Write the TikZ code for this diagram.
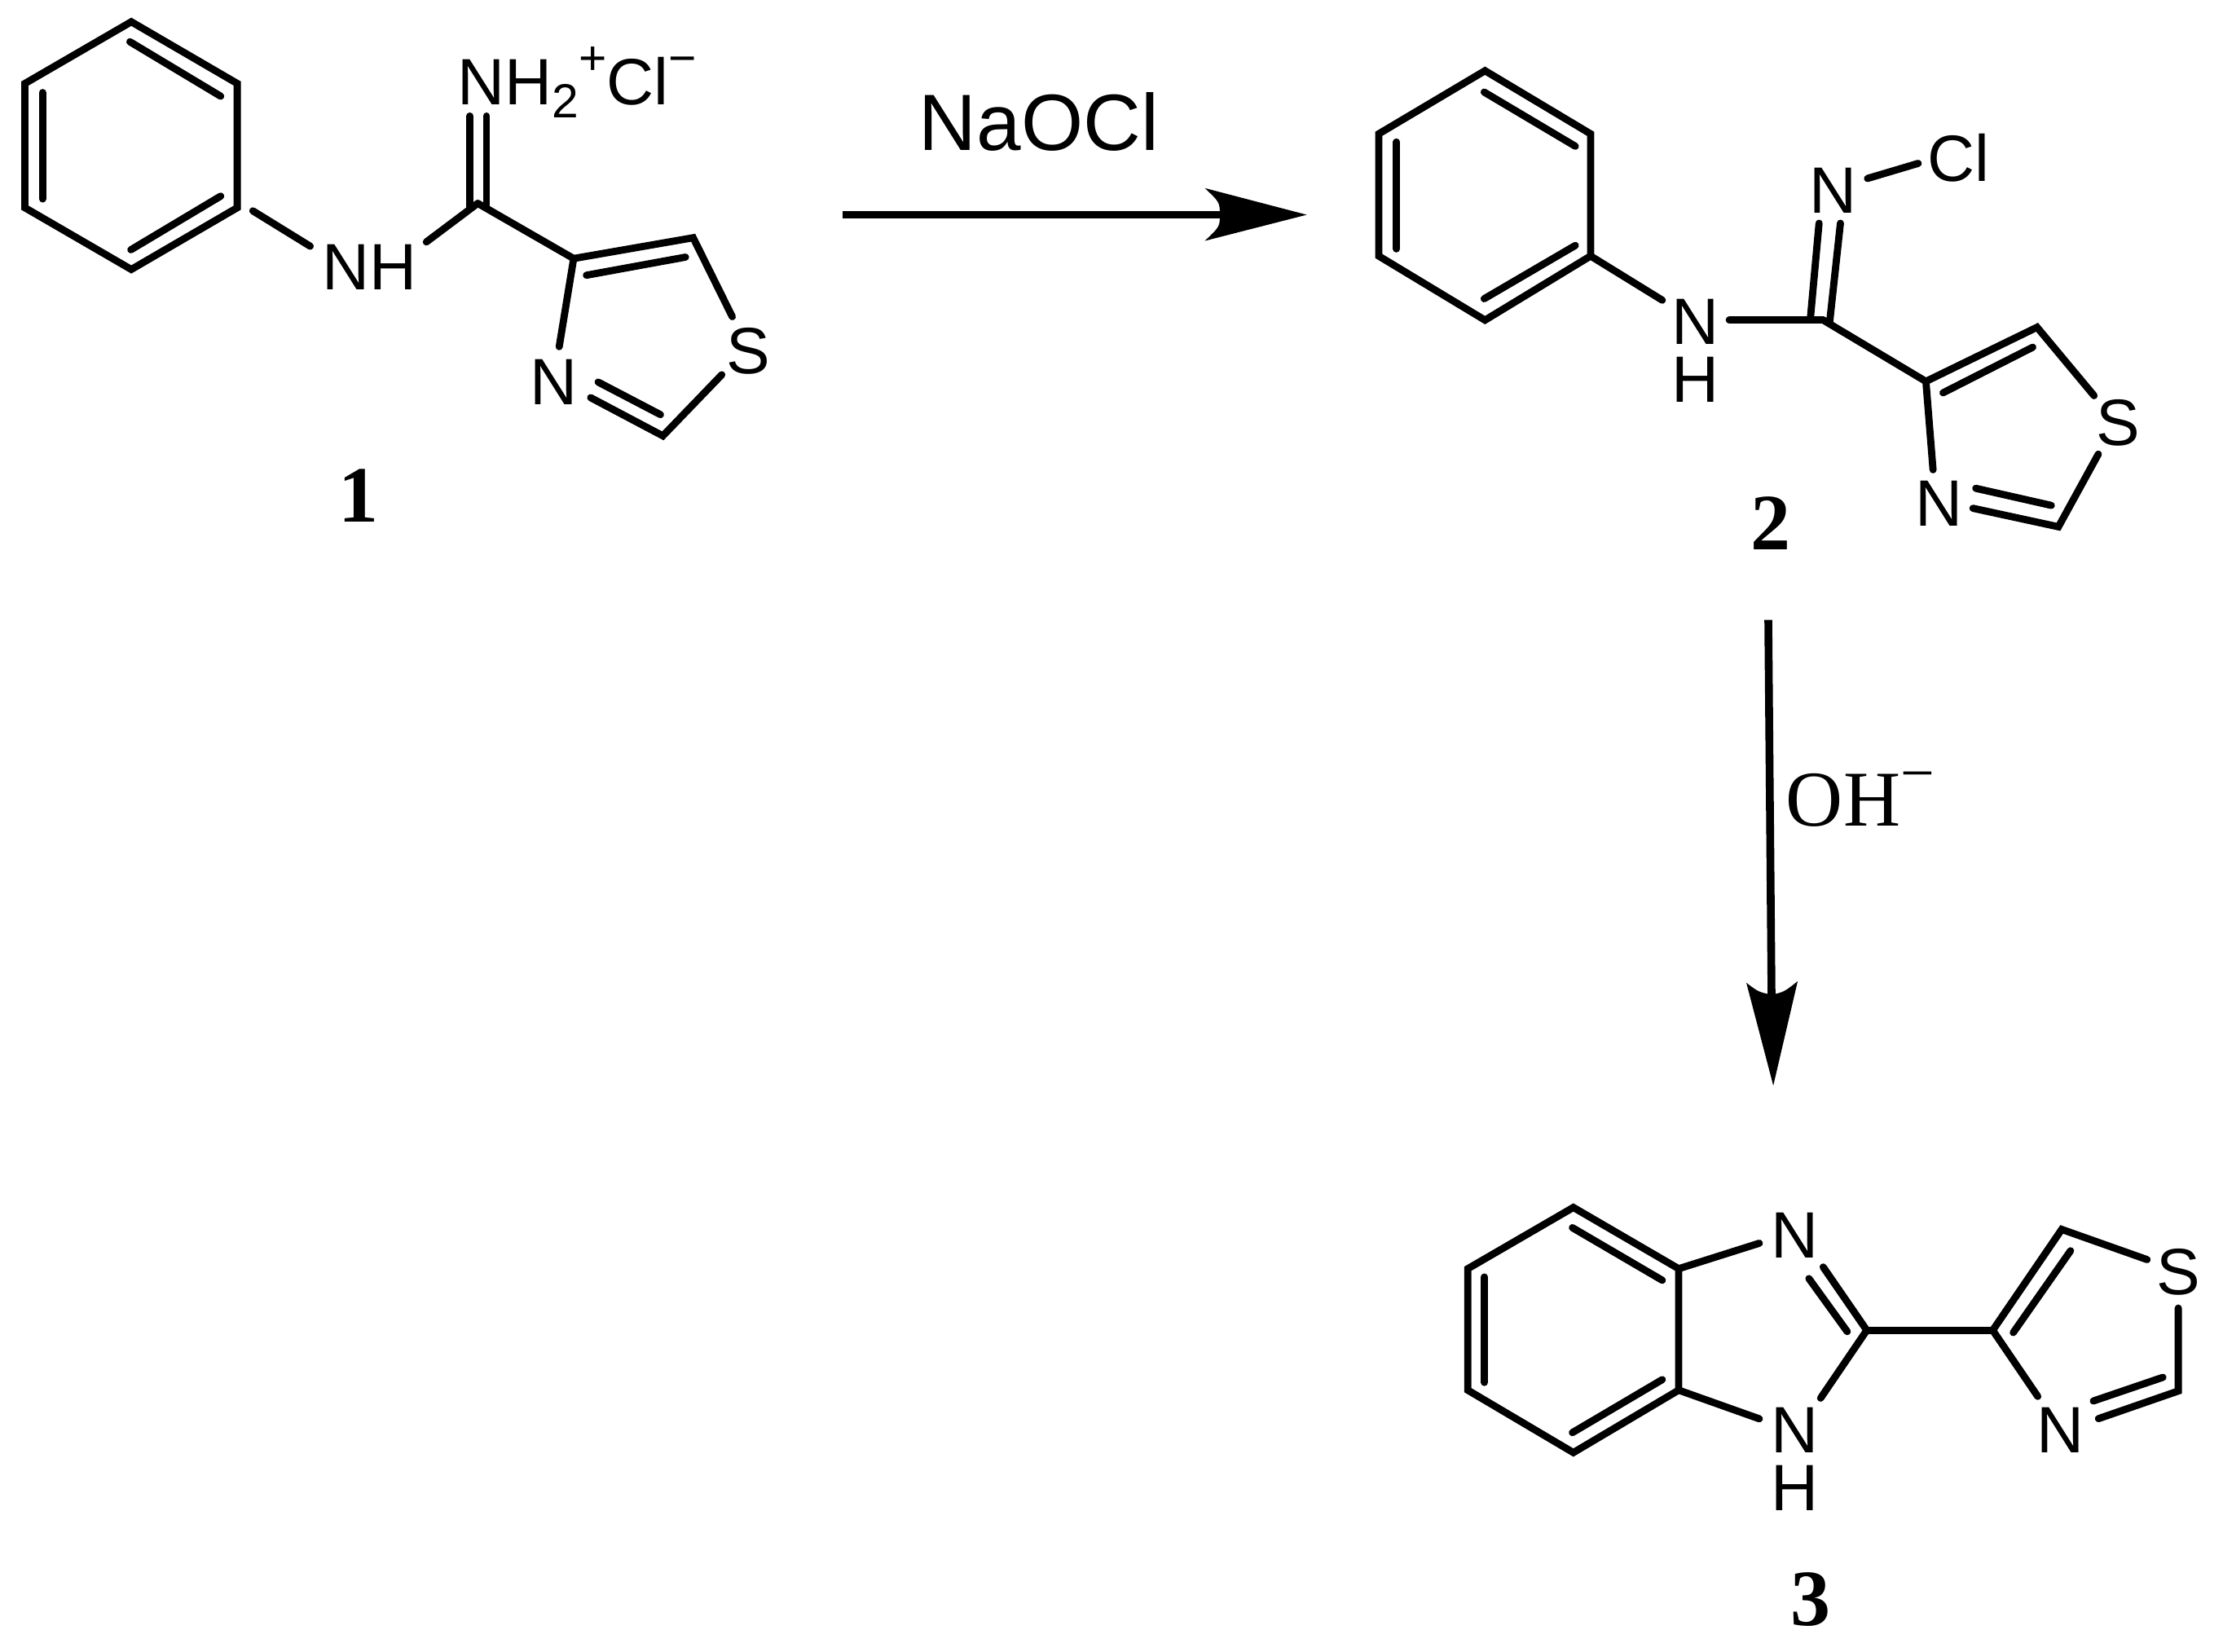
\documentclass[tikz,border=0pt]{standalone}
\usepackage{fontspec}
\setmainfont{Liberation Sans}
\newfontfamily\timesf{Liberation Serif}
\newcommand{\atomsize}{\fontsize{20.1}{24}\selectfont}
\newcommand{\smallsize}{\fontsize{14.7}{17}\selectfont}
\tikzset{
  bond/.style={line width=2.2pt,line cap=round,line join=miter},
  atom/.style={inner sep=0pt,outer sep=0pt,font=\atomsize},
  reagent/.style={inner sep=0pt,outer sep=0pt,font=\fontsize{24.5}{28}\selectfont},
  compound/.style={inner sep=0pt,outer sep=0pt,font=\timesf\bfseries\fontsize{24.5}{28}\selectfont},
  stem/.style={line width=2.4pt},
  head/.style={fill=black,draw=none}
}
\begin{document}
\begin{tikzpicture}[x=0.43718pt,y=-0.43718pt]
\useasboundingbox (0,0) rectangle (1560,1159.1);

% ---------- compound 1 ----------
\begin{scope}[xscale=0.994,yscale=0.993]
\coordinate (a1) at (92.7,15.4);
\coordinate (a2) at (167.5,59);
\coordinate (a3) at (167.5,146.8);
\coordinate (a4) at (92.7,190.4);
\coordinate (a5) at (17.6,146.8);
\coordinate (a6) at (17.6,59);
\draw[bond] (a1) -- (a2) -- (a3) -- (a4) -- (a5) -- (a6) -- cycle;
\coordinate (a1i) at (91.7,29.5); \coordinate (a2i) at (155.8,68);
\coordinate (a3i) at (155.8,138.6); \coordinate (a4i) at (92.4,176.5);
\coordinate (a5i) at (30,140.6); \coordinate (a6i) at (30,65.4);
\draw[bond] (a1i) -- (a2i); \draw[bond] (a3i) -- (a4i); \draw[bond] (a5i) -- (a6i);
\node[atom] (nh1) at (261,188.9) {NH};
\node[atom,anchor=base west] (nh2) at (323,74) {NH\raisebox{-4.1pt}{\smallsize 2}\raisebox{9.2pt}{\smallsize +}Cl\raisebox{9.2pt}{\smallsize −}};
\node[atom] (s1) at (528.5,248) {S};
\node[atom] (n1) at (391,270) {N};
\node[compound] (lab1) at (253,350) {1};
\coordinate (a3e) at (178.5,149); \coordinate (nh1w) at (219,174);
\coordinate (nh1e) at (301,171); \coordinate (c1) at (337.3,143.7);
\draw[bond] (a3e) -- (nh1w);
\draw[bond] (nh1e) -- (c1);
\coordinate (dbl) at (331.8,82); \coordinate (dbr) at (343.5,82);
\coordinate (dbl2) at (331.8,146); \coordinate (dbr2) at (343.5,147);
\draw[bond] (dbl) -- (dbl2); \draw[bond] (dbr) -- (dbr2);
\coordinate (t4) at (405,182.7); \coordinate (t5) at (489.4,168);
\coordinate (t5s) at (517,223.8); \coordinate (ts2) at (509.6,264.8);
\coordinate (t2) at (468,308); \coordinate (t2n) at (417,281);
\coordinate (t4n) at (394.8,245);
\draw[bond] (c1) -- (t4);
\draw[bond] (t4n) -- (t4) -- (t5) -- (t5s);
\draw[bond] (ts2) -- (t2) -- (t2n);
\coordinate (t4i) at (414,194.5); \coordinate (t5i) at (484,181.7);
\coordinate (t2i) at (466.3,293); \coordinate (t2ni) at (422.3,270);
\draw[bond] (t4i) -- (t5i); \draw[bond] (t2i) -- (t2ni);
\end{scope}

% ---------- arrow 1 ----------
\node[reagent,anchor=base west] (naocl) at (645,105.6) {NaOCl};
\coordinate (ar1s) at (591,150.7); \coordinate (ar1n) at (856,150.7);
\coordinate (ar1t) at (917,150.7); \coordinate (ar1a) at (845.5,132);
\coordinate (ar1b) at (845.5,169);
\draw[stem] (ar1s) -- (ar1n);
\fill[head] (ar1t) -- (ar1a) .. controls (856,142) .. (ar1n) .. controls (856,159) .. (ar1b) -- cycle;

% ---------- compound 2 ----------
\begin{scope}[xshift=-3.5*0.43718pt,yshift=0.6pt]
\coordinate (b1) at (1045.6,51);
\coordinate (b2) at (1119.7,95.3);
\coordinate (b3) at (1119.7,181);
\coordinate (b4) at (1045.6,226);
\coordinate (b5) at (971,181);
\coordinate (b6) at (971,95.3);
\draw[bond] (b1) -- (b2) -- (b3) -- (b4) -- (b5) -- (b6) -- cycle;
\coordinate (b1i) at (1045,66); \coordinate (b2i) at (1109,104);
\coordinate (b3i) at (1109,173.6); \coordinate (b4i) at (1045,211);
\coordinate (b5i) at (983.5,176); \coordinate (b6i) at (983.5,101);
\draw[bond] (b1i) -- (b2i); \draw[bond] (b3i) -- (b4i); \draw[bond] (b5i) -- (b6i);
\node[atom] (n2a) at (1193,227) {N};
\node[atom] (h2a) at (1193,268) {H};
\node[atom] (n2b) at (1290,135) {N};
\node[atom] (cl2) at (1378,112) {Cl};
\node[atom] (s2) at (1490,298) {S};
\node[atom] (n2c) at (1364,354.5) {N};
\node[compound] (lab2) at (1246,368.6) {2};
\coordinate (n2aw) at (1170,212); \coordinate (n2ae) at (1217,226);
\coordinate (c2) at (1283,226);
\draw[bond] (b3) -- (n2aw);
\draw[bond] (n2ae) -- (c2);
\coordinate (e1) at (1274,224); \coordinate (e2) at (1280,158);
\coordinate (e3) at (1287.5,227); \coordinate (e4) at (1295,158);
\draw[bond] (e1) -- (e2); \draw[bond] (e3) -- (e4);
\coordinate (n2bc) at (1314,126.6); \coordinate (cl2w) at (1349.6,116);
\draw[bond] (n2bc) -- (cl2w);
\coordinate (u4) at (1355,269); \coordinate (u5) at (1433,231);
\coordinate (u5s) at (1473,279); \coordinate (us2) at (1476,320);
\coordinate (u2) at (1448,371); \coordinate (u2n) at (1388,358);
\coordinate (u4n) at (1360,331);
\draw[bond] (c2) -- (u4);
\draw[bond] (u4n) -- (u4) -- (u5) -- (u5s);
\draw[bond] (us2) -- (u2) -- (u2n);
\coordinate (u4i) at (1367,277); \coordinate (u5i) at (1430,245);
\coordinate (u2i) at (1443,356); \coordinate (u2ni) at (1390,344);
\draw[bond] (u4i) -- (u5i); \draw[bond] (u2i) -- (u2ni);
\end{scope}

% ---------- arrow 2 ----------
\node[inner sep=0pt,anchor=base west] (oh) at (1253,579.3) {\timesf\fontsize{24.25}{28}\selectfont OH\raisebox{10pt}{\fontsize{18.5}{20}\selectfont −}};
\coordinate (ar2s) at (1240.9,435); \coordinate (ar2n) at (1243.2,700);
\coordinate (ar2t) at (1244.4,761.7); \coordinate (ar2a) at (1225.5,689.6);
\coordinate (ar2b) at (1261.5,688.5);
\draw[stem] (ar2s) -- (ar2n);
\fill[head] (ar2t) -- (ar2a) .. controls (1234,696) .. (1243.2,698) .. controls (1252,696) .. (ar2b) -- cycle;

% ---------- compound 3 ----------
\begin{scope}[xshift=-2*0.43718pt]
\coordinate (d1) at (1106.1,847.2);
\coordinate (d2) at (1180,890.2);
\coordinate (d3) at (1180,975.4);
\coordinate (d4) at (1106.1,1019.2);
\coordinate (d5) at (1032,975.4);
\coordinate (d6) at (1032,890.2);
\draw[bond] (d1) -- (d2) -- (d3) -- (d4) -- (d5) -- (d6) -- cycle;
\coordinate (d1i) at (1105.4,861.4); \coordinate (d2i) at (1168.5,898.3);
\coordinate (d3i) at (1168.5,968); \coordinate (d4i) at (1105.4,1005.2);
\coordinate (d5i) at (1043.7,970); \coordinate (d6i) at (1043.7,896);
\draw[bond] (d1i) -- (d2i); \draw[bond] (d3i) -- (d4i); \draw[bond] (d5i) -- (d6i);
\node[atom] (n3a) at (1261.7,866.6) {N};
\node[atom] (n3b) at (1261.7,1003.7) {N};
\node[atom] (h3) at (1261.7,1044) {H};
\node[atom] (n3c) at (1448,1003.7) {N};
\node[atom] (s3) at (1530.6,892.5) {S};
\node[compound] (lab3) at (1272.4,1122.3) {3};
\coordinate (n3aw) at (1236.6,872.3); \coordinate (n3bw) at (1236.6,995.5);
\draw[bond] (d2) -- (n3aw); \draw[bond] (d3) -- (n3bw);
\coordinate (f2) at (1312,933.4); \coordinate (n3be) at (1279.6,981);
\coordinate (n3ae) at (1281.4,889);
\draw[bond] (f2) -- (n3be); \draw[bond] (f2) -- (n3ae);
\coordinate (f2i) at (1298.3,934.3); \coordinate (n3ai) at (1271.4,897.1);
\draw[bond] (f2i) -- (n3ai);
\coordinate (g4) at (1400.4,933.4); \coordinate (g5) at (1448.8,862.6);
\coordinate (g5s) at (1508.7,883.8); \coordinate (gs2) at (1530.6,917.8);
\coordinate (g2) at (1530.6,976); \coordinate (g2n) at (1474.6,995.4);
\coordinate (g4n) at (1432,979.8);
\draw[bond] (f2) -- (g4);
\draw[bond] (g4n) -- (g4) -- (g5) -- (g5s);
\draw[bond] (gs2) -- (g2) -- (g2n);
\coordinate (g4i) at (1414.8,935); \coordinate (g5i) at (1455,877.6);
\coordinate (g2i) at (1519.8,966.4); \coordinate (g2ni) at (1471,983);
\draw[bond] (g4i) -- (g5i); \draw[bond] (g2i) -- (g2ni);
\end{scope}
\end{tikzpicture}
\end{document}
